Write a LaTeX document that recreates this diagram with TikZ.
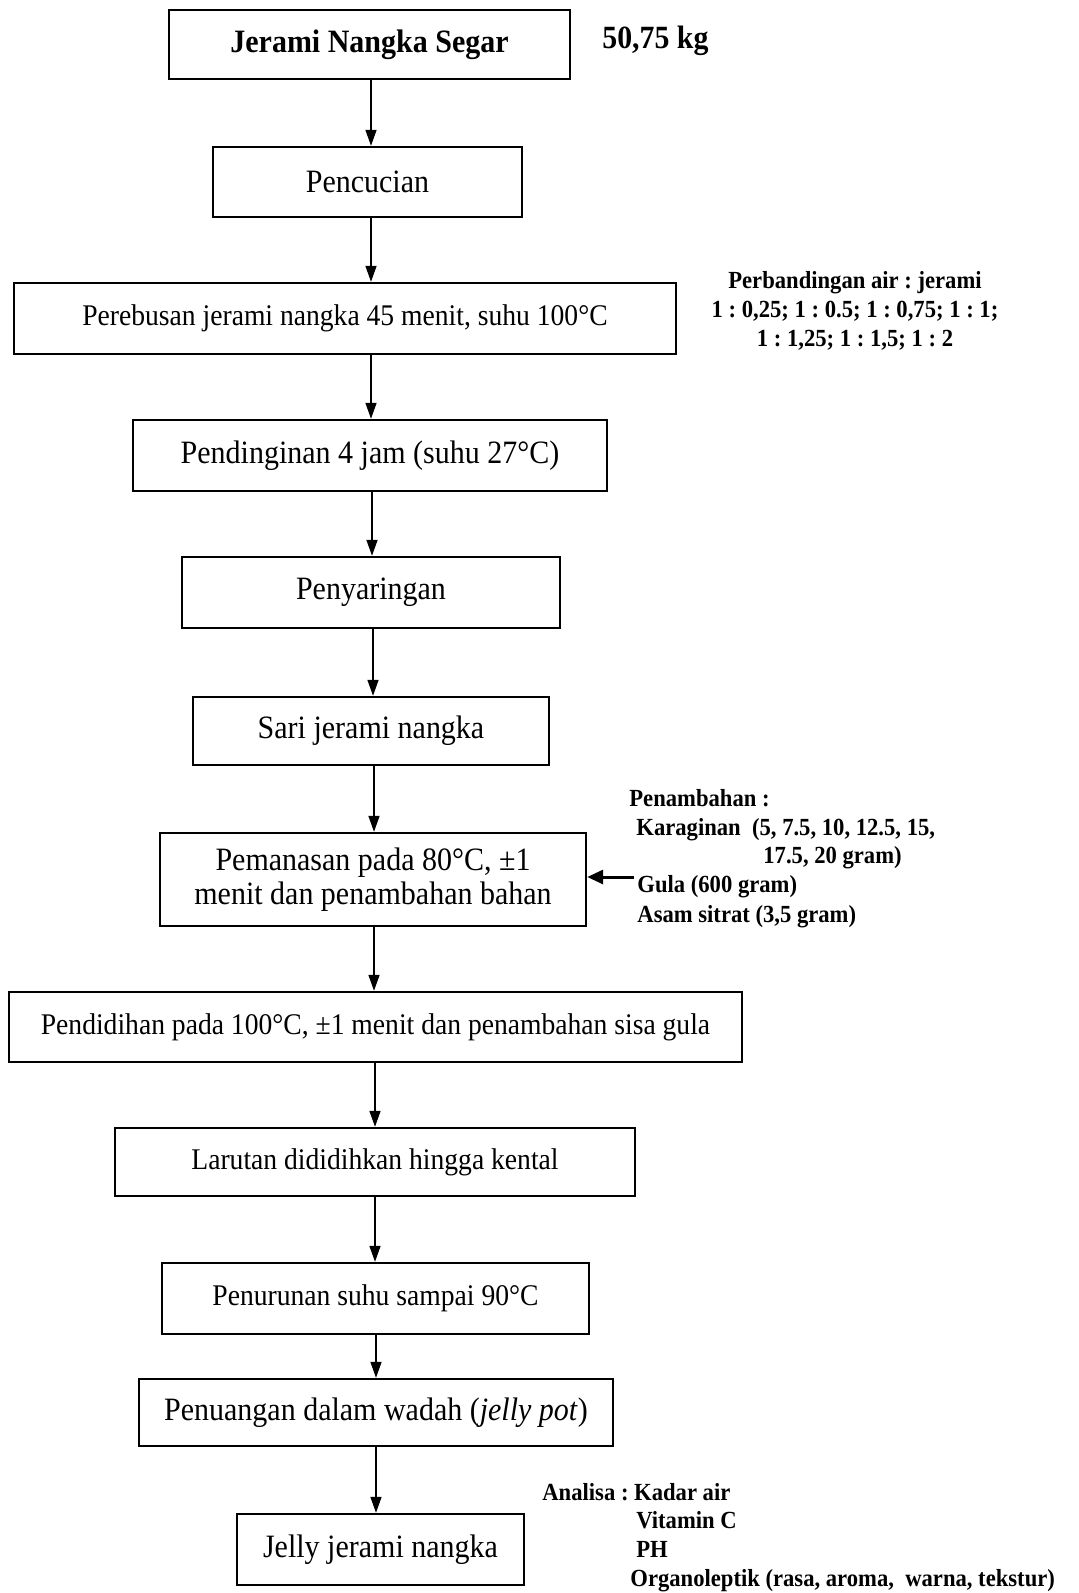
\documentclass[tikz,border=0pt]{standalone}
\usepackage{fontspec}
\setmainfont[FakeStretch=0.92]{Liberation Serif}
\usetikzlibrary{arrows.meta}
\frenchspacing
\begin{document}
\begin{tikzpicture}[x=0.5pt,y=-0.5pt,
  box/.style={draw,line width=1.2pt,inner sep=0pt,align=center,font=\fontsize{16.3}{17}\selectfont},
  smallbox/.style={box,font=\fontsize{15}{17}\selectfont},
  note/.style={inner sep=0pt,anchor=west,text height=9pt,text depth=2.5pt,font=\fontsize{12.3}{14.5}\selectfont\bfseries},
  arr/.style={line width=0.8pt,-{Triangle[length=8pt,width=5.5pt]}},
  sidearr/.style={line width=1.5pt,-{Triangle[length=8pt,width=7pt]}}
  ]
\useasboundingbox (0,0) rectangle (1079,1593);
% main boxes
\node[box,minimum width=200.5pt,minimum height=34.5pt,font=\fontsize{16.3}{17}\selectfont\bfseries] (b1) at (369.5,44.5) {Jerami Nangka Segar};
\node[box,minimum width=154.5pt,minimum height=35pt] (b2) at (367.5,182) {Pencucian};
\node[smallbox,minimum width=331pt,minimum height=35.5pt] (b3) at (345,318.5) {Perebusan jerami nangka 45 menit, suhu 100°C};
\node[box,minimum width=237pt,minimum height=35.5pt] (b4) at (370,455.5) {Pendinginan 4 jam (suhu 27°C)};
\node[box,minimum width=189pt,minimum height=35.5pt] (b5) at (371,592.5) {Penyaringan};
\node[box,minimum width=178pt,minimum height=34pt] (b6) at (371,731) {Sari jerami nangka};
\node[box,minimum width=213pt,minimum height=46.5pt] (b7) at (373,879.5) {Pemanasan pada 80°C, ±1\\menit dan penambahan bahan};
\node[smallbox,minimum width=366.5pt,minimum height=35pt] (b8) at (375.5,1027) {Pendidihan pada 100°C, ±1 menit dan penambahan sisa gula};
\node[smallbox,minimum width=260pt,minimum height=34pt] (b9) at (375,1162) {Larutan dididihkan hingga kental};
\node[smallbox,minimum width=213.5pt,minimum height=35.5pt] (b10) at (375.5,1298.5) {Penurunan suhu sampai 90°C};
\node[box,minimum width=237pt,minimum height=33.5pt] (b11) at (376,1412.5) {Penuangan dalam wadah (\textit{jelly pot})};
\node[box,minimum width=143.5pt,minimum height=35.5pt] (b12) at (380.5,1549.5) {Jelly jerami nangka};
% connectors
\draw[arr] ([xshift=0.75pt]b1.south) -- ([xshift=0.75pt]b1.south |- b2.north);
\draw[arr] ([xshift=1.75pt]b2.south) -- ([xshift=1.75pt]b2.south |- b3.north);
\draw[arr] ([xshift=0.5pt]b4.north |- b3.south) -- ([xshift=0.5pt]b4.north);
\draw[arr] ([xshift=1pt]b4.south) -- ([xshift=1pt]b4.south |- b5.north);
\draw[arr] ([xshift=1pt]b5.south) -- ([xshift=1pt]b5.south |- b6.north);
\draw[arr] ([xshift=1.5pt]b6.south) -- ([xshift=1.5pt]b6.south |- b7.north);
\draw[arr] ([xshift=0.5pt]b7.south) -- ([xshift=0.5pt]b7.south |- b8.north);
\draw[arr] (b9.north |- b8.south) -- (b9.north);
\draw[arr] (b9.south) -- (b9.south |- b10.north);
\draw[arr] (b11.north |- b10.south) -- (b11.north);
\draw[arr] (b11.south) -- (b11.south |- b12.north);
% side notes
\node[inner sep=0pt,anchor=west,font=\fontsize{16.2}{17}\selectfont\bfseries] (mass) at (602,41) {50,75 kg};
\node[inner sep=0pt,align=center,font=\fontsize{12.3}{14.5}\selectfont\bfseries] (ratio) at (855,311) {Perbandingan air : jerami\\1 : 0,25; 1 : 0.5; 1 : 0,75; 1 : 1;\\1 : 1,25; 1 : 1,5; 1 : 2};
\node[note] (pen) at (629,800) {Penambahan :};
\node[note] (kar) at (636,829) {Karaginan\ \ (5, 7.5, 10, 12.5, 15,};
\node[note] (kar2) at (763,857) {17.5, 20 gram)};
\node[note] (gula) at (637,886) {Gula (600 gram)};
\node[note] (asam) at (637,916) {Asam sitrat (3,5 gram)};
\coordinate (tail) at (634,877);
\draw[sidearr] (tail) -- (b7.east |- tail);
\node[note] (ana) at (542,1494) {Analisa : Kadar air};
\node[note] (vit) at (636,1522) {Vitamin C};
\node[note] (ph) at (636,1551) {PH};
\node[note] (org) at (630,1580) {Organoleptik (rasa, aroma,\ \ warna, tekstur)};
\end{tikzpicture}
\end{document}
